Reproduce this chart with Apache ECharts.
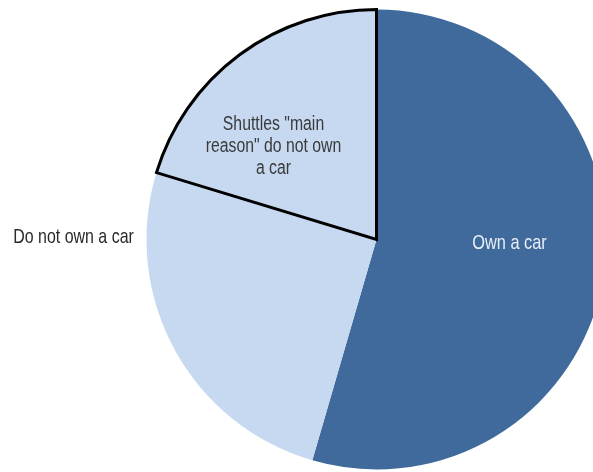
<!DOCTYPE html>
<html>
<head>
<meta charset="utf-8">
<script src="https://cdn.jsdelivr.net/npm/echarts@6/dist/echarts.min.js"></script>
<style>
html,body{margin:0;padding:0;background:#fff;}
#chart{width:593px;height:472px;}
</style>
</head>
<body>
<div id="chart"></div>
<script>
const categories = ['Own a car', 'Do not own a car', 'Shuttles "main\nreason" do not own\na car'];
const values = [54.5, 25.2, 20.3];
const colors = ['#3F6A9B', '#C6D9F0', '#C6D9F0'];

const FONT = '"Liberation Sans", Arial, sans-serif';
const chart = echarts.init(document.getElementById('chart'));
const data = categories.map((c, i) => ({
  name: c,
  value: values[i],
  itemStyle: i === 2
    ? { color: colors[i], borderColor: '#000', borderWidth: 3, borderJoin: 'miter' }
    : { color: colors[i], borderWidth: 0 }
}));
chart.setOption({
  animation: false,
  series: [{
    type: 'pie',
    center: [376.5, 239.5],
    radius: [0, 230],
    startAngle: 90,
    clockwise: true,
    label: { show: false },
    labelLine: { show: false },
    emphasis: { disabled: true },
    data: data
  }],
  graphic: [
    { type: 'text', z: 100, x: 509.5, y: 243, scaleX: 0.78,
      style: { text: categories[0], font: '21px ' + FONT, fill: '#E8EEF6', align: 'center', verticalAlign: 'middle' } },
    { type: 'text', z: 100, x: 73.5, y: 237, scaleX: 0.76,
      style: { text: categories[1], font: '21px ' + FONT, fill: '#2a2a2a', align: 'center', verticalAlign: 'middle' } },
    { type: 'text', z: 100, x: 273.5, y: 146, scaleX: 0.79,
      style: { text: categories[2], font: '20px ' + FONT, fill: '#3a3a3a', align: 'center', verticalAlign: 'middle', lineHeight: 22 } }
  ]
});
</script>
</body>
</html>
